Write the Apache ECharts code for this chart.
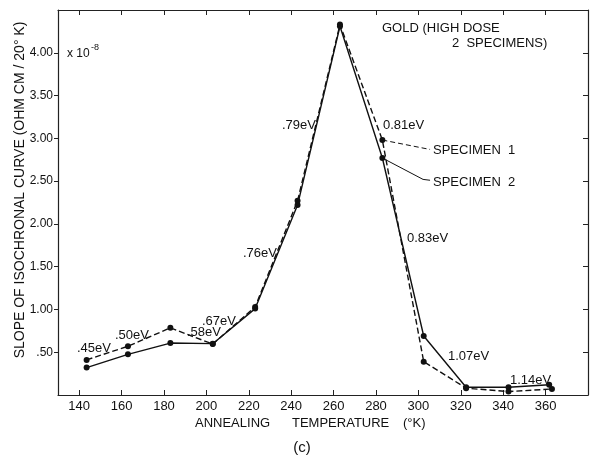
<!DOCTYPE html>
<html><head><meta charset="utf-8">
<script src="https://cdn.jsdelivr.net/npm/echarts@6/dist/echarts.min.js"></script>
<style>html,body{margin:0;padding:0;background:#fff}#c{width:593px;height:457px}</style>
</head><body><div id="c"></div>
<script>
// Annealing temperature (K) for each specimen's points
const temps1 = [143.5, 163, 183, 203, 223, 243, 263, 283, 302.5, 322.5, 342.5, 363];
const temps2 = [143.5, 163, 183, 203, 223, 243, 263, 283, 302.5, 322.5, 342.5, 361.7];
// Slope of isochronal curve (x 10^-8 ohm cm / 20 K)
const specimen1 = [0.41, 0.57, 0.785, 0.595, 1.03, 2.27, 4.33, 2.98, 0.39, 0.08, 0.04, 0.07];
const specimen2 = [0.32, 0.475, 0.607, 0.60, 1.01, 2.22, 4.31, 2.77, 0.69, 0.09, 0.09, 0.12];
const xTicks = [140, 160, 180, 200, 220, 240, 260, 280, 300, 320, 340, 360];
const yTicks = [0.5, 1.0, 1.5, 2.0, 2.5, 3.0, 3.5, 4.0];

const F = '"Liberation Sans", Arial, sans-serif';
const chart = echarts.init(document.getElementById('c'), null, {renderer: 'canvas'});
const pairs = (xs, ys) => xs.map((x, i) => [x, ys[i]]);
const txt = (text, x, y, size, align, rot) => ({
  type: 'text', x, y, rotation: rot || 0, silent: true,
  style: {text, font: `${size || 13}px ${F}`, fill: '#111', textAlign: align || 'left', textVerticalAlign: 'middle'}
});

chart.setOption({
  animation: false,
  backgroundColor: '#fff',
  grid: {left: 58, right: 5, top: 10, bottom: 62, containLabel: false},
  xAxis: [{
    type: 'value', min: 130, max: 380, position: 'bottom',
    axisLine: {show: true, onZero: false, lineStyle: {color: '#222', width: 1.2}},
    axisTick: {show: true, inside: true, length: 5, customValues: xTicks, lineStyle: {color: '#222'}},
    axisLabel: {customValues: xTicks, fontFamily: F, fontSize: 13, color: '#111', margin: 5},
    splitLine: {show: false}
  }, {
    type: 'value', min: 130, max: 380, position: 'top',
    axisLine: {show: true, onZero: false, lineStyle: {color: '#222', width: 1.2}},
    axisTick: {show: true, inside: true, length: 5, customValues: xTicks, lineStyle: {color: '#222'}},
    axisLabel: {show: false}, splitLine: {show: false}
  }],
  yAxis: [{
    type: 'value', min: 0, max: 4.5, interval: 0.5, position: 'left',
    axisLine: {show: true, onZero: false, lineStyle: {color: '#222', width: 1.2}},
    axisTick: {show: true, inside: false, length: 4, customValues: yTicks, lineStyle: {color: '#222'}},
    axisLabel: {customValues: yTicks, fontFamily: F, fontSize: 12, color: '#111', margin: 5,
      formatter: v => v < 1 ? '.50' : v.toFixed(2)},
    splitLine: {show: false}
  }, {
    type: 'value', min: 0, max: 4.5, interval: 0.5, position: 'right',
    axisLine: {show: true, onZero: false, lineStyle: {color: '#222', width: 1.2}},
    axisTick: {show: true, inside: true, length: 5, customValues: yTicks, lineStyle: {color: '#222'}},
    axisLabel: {show: false}, splitLine: {show: false}
  }],
  series: [{
    name: 'SPECIMEN 1', type: 'line', data: pairs(temps1, specimen1),
    symbol: 'circle', symbolSize: 6, itemStyle: {color: '#111'},
    lineStyle: {color: '#111', width: 1.4, type: [6, 3]},
    markLine: {silent: true, symbol: ['none', 'none'], label: {show: false},
      lineStyle: {color: '#111', width: 1, type: [5, 3]},
      data: [[{coord: [283, 2.98]}, {coord: [305.5, 2.87]}]]}
  }, {
    name: 'SPECIMEN 2', type: 'line', data: pairs(temps2, specimen2),
    symbol: 'circle', symbolSize: 6, itemStyle: {color: '#111'},
    lineStyle: {color: '#111', width: 1.4, type: 'solid'},
    markLine: {silent: true, symbol: ['none', 'none'], label: {show: false},
      lineStyle: {color: '#111', width: 1, type: 'solid'},
      data: [[{coord: [283, 2.77]}, {coord: [302.2, 2.52]}], [{coord: [302.2, 2.52]}, {coord: [305.5, 2.51]}]]}
  }],
  graphic: [
    txt('SLOPE OF ISOCHRONAL CURVE (OHM CM / 20° K)', 20, 190, 14, 'center', Math.PI / 2),
    txt('ANNEALING', 195, 423, 13), txt('TEMPERATURE', 292, 423, 13), txt('(°K)', 403, 423, 13),
    txt('x 10', 67, 54, 12), txt('-8', 91, 48, 9),
    txt('GOLD (HIGH DOSE', 382, 28), txt('2  SPECIMENS)', 452, 43),
    txt('SPECIMEN  1', 433, 150), txt('SPECIMEN  2', 433, 182),
    txt('.45eV', 77, 348), txt('.50eV', 115, 335), txt('.58eV', 187, 332), txt('.67eV', 202, 321),
    txt('.76eV', 243, 253), txt('.79eV', 282, 125), txt('0.81eV', 383, 125), txt('0.83eV', 407, 238),
    txt('1.07eV', 448, 356), txt('1.14eV', 510, 380),
    txt('(c)', 302, 448, 15, 'center')
  ]
});
</script></body></html>
